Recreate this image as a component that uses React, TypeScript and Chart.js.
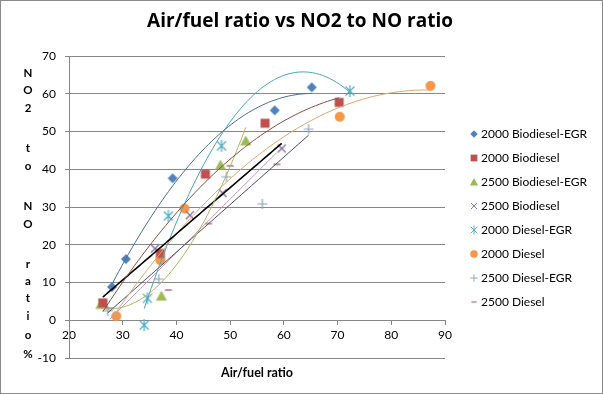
import React, { useEffect, useRef } from 'react';
import { Chart, registerables } from 'chart.js';
Chart.register(...registerables);

// ---- data ----
const seriesNames = [
  '2000 Biodiesel-EGR',
  '2000 Biodiesel',
  '2500 Biodiesel-EGR',
  '2500 Biodiesel',
  '2000 Diesel-EGR',
  '2000 Diesel',
  '2500 Diesel-EGR',
  '2500 Diesel',
];
const bioEgr2000X = [28, 30.6, 39.3, 58.3, 65.2];
const bioEgr2000Y = [8.8, 16.2, 37.6, 55.6, 61.7];
const bio2000X = [26.3, 37, 45.4, 56.5, 70.3];
const bio2000Y = [4.6, 17.7, 38.7, 52.2, 57.7];
const bioEgr2500X = [25.9, 37.2, 48.2, 52.9];
const bioEgr2500Y = [4.2, 6.4, 41.1, 47.5];
const bio2500X = [26.3, 36, 42.5, 48.6, 59.6];
const bio2500Y = [4.4, 19, 27.8, 33.7, 45.5];
const dieselEgr2000X = [34, 34.6, 38.5, 48.4, 72.3];
const dieselEgr2000Y = [-1.3, 5.8, 27.6, 46.2, 60.7];
const diesel2000X = [28.8, 37, 41.5, 70.4, 87.3];
const diesel2000Y = [1.1, 15.9, 29.6, 53.9, 62.1];
const dieselEgr2500X = [27.2, 36.7, 49.3, 56, 64.6];
const dieselEgr2500Y = [2.5, 10.9, 38, 30.8, 50.6];
const diesel2500X = [27.6, 38.5, 46, 50, 58.7];
const diesel2500Y = [3.2, 8, 25.6, 40.9, 41.3];

// trendline type per series (polynomial order)
const trendOrders = [2, 2, 2, 1, 2, 2, 1, 1];

const xAxisMin = 20;
const xAxisMax = 90;
const yAxisMin = -10;
const yAxisMax = 70;
const tickStep = 10;

const chartTitle = 'Air/fuel ratio vs NO2 to NO ratio';
const xTitle = 'Air/fuel ratio';
const yTitle = 'NO2 to NO ratio %';

// ---- styles ----
const seriesX = [bioEgr2000X, bio2000X, bioEgr2500X, bio2500X, dieselEgr2000X, diesel2000X, dieselEgr2500X, diesel2500X];
const seriesY = [bioEgr2000Y, bio2000Y, bioEgr2500Y, bio2500Y, dieselEgr2000Y, diesel2000Y, dieselEgr2500Y, diesel2500Y];
const markerKinds = ['diamond', 'square', 'triangle', 'x', 'asterisk', 'circle', 'plus', 'dash'];
const markerColors = ['#4F81BD', '#C0504D', '#9BBB59', '#8064A2', '#4BACC6', '#F79646', '#8da2c0', '#c9909e'];
const trendColors = ['#4a6f97', '#8e4a48', '#b0b860', '#000000', '#4ba6c0', '#dcaa72', '#4a4a66', '#c496ac'];
const trendWidths = [1, 1, 1, 1.6, 1, 1, 1, 1];

const FONT = 'Lato, "Open Sans", "DejaVu Sans", sans-serif';
const TITLE_FONT = '"Open Sans", Lato, sans-serif';

function makeMarker(kind: string, color: string, scale = 1): HTMLCanvasElement {
  const s = 16;
  const c = document.createElement('canvas');
  c.width = s;
  c.height = s;
  const g = c.getContext('2d')!;
  g.translate(s / 2, s / 2);
  g.scale(scale, scale);
  g.fillStyle = color;
  g.strokeStyle = color;
  g.lineWidth = 1.2;
  g.beginPath();
  switch (kind) {
    case 'diamond':
      g.moveTo(0, -5); g.lineTo(5, 0); g.lineTo(0, 5); g.lineTo(-5, 0); g.closePath(); g.fill();
      break;
    case 'square':
      g.fillRect(-4.5, -4.5, 9, 9);
      break;
    case 'triangle':
      g.moveTo(0, -5.5); g.lineTo(5.5, 4.5); g.lineTo(-5.5, 4.5); g.closePath(); g.fill();
      break;
    case 'x':
      g.moveTo(-4, -4); g.lineTo(4, 4); g.moveTo(-4, 4); g.lineTo(4, -4); g.stroke();
      break;
    case 'asterisk':
      g.moveTo(-4.5, -4.5); g.lineTo(4.5, 4.5); g.moveTo(-4.5, 4.5); g.lineTo(4.5, -4.5);
      g.moveTo(0, -6); g.lineTo(0, 6); g.stroke();
      break;
    case 'circle':
      g.arc(0, 0, 5, 0, Math.PI * 2); g.fill();
      break;
    case 'plus':
      g.moveTo(-5, 0); g.lineTo(5, 0); g.moveTo(0, -5); g.lineTo(0, 5); g.stroke();
      break;
    case 'dash':
      g.fillRect(-3.5, -1, 7, 2);
      break;
  }
  return c;
}

// least-squares polynomial trendline (order 1 or 2), as Excel does
function polyFit(xs: number[], ys: number[], order: number): number[] {
  const m = order + 1;
  const M: number[][] = [];
  for (let r = 0; r < m; r++) {
    const row: number[] = [];
    for (let c = 0; c < m; c++) {
      let s = 0;
      for (let i = 0; i < xs.length; i++) s += Math.pow(xs[i], r + c);
      row.push(s);
    }
    let t = 0;
    for (let i = 0; i < xs.length; i++) t += ys[i] * Math.pow(xs[i], r);
    row.push(t);
    M.push(row);
  }
  for (let i = 0; i < m; i++) {
    let p = i;
    for (let r = i + 1; r < m; r++) if (Math.abs(M[r][i]) > Math.abs(M[p][i])) p = r;
    [M[i], M[p]] = [M[p], M[i]];
    for (let r = 0; r < m; r++) {
      if (r === i) continue;
      const f = M[r][i] / M[i][i];
      for (let k = i; k <= m; k++) M[r][k] -= f * M[i][k];
    }
  }
  return M.map((row, i) => row[m] / row[i]);
}

function trendPoints(xs: number[], ys: number[], order: number) {
  const coef = polyFit(xs, ys, order);
  const lo = Math.min(...xs), hi = Math.max(...xs);
  const pts = [];
  const N = 60;
  for (let i = 0; i <= N; i++) {
    const x = lo + ((hi - lo) * i) / N;
    let y = 0;
    coef.forEach((c, k) => { y += c * Math.pow(x, k); });
    pts.push({ x, y });
  }
  return pts;
}

export default function App() {
  const ref = useRef<HTMLCanvasElement>(null);
  useEffect(() => {
    document.body.style.margin = '0';
    const markers = markerKinds.map((k, i) => makeMarker(k, markerColors[i]));
    const legendMarkers = markerKinds.map((k, i) => makeMarker(k, markerColors[i], 0.75));

    const trendSets = seriesNames.map((name, i) => ({
      type: 'line' as const,
      label: name + ' trend',
      data: trendPoints(seriesX[i], seriesY[i], trendOrders[i]),
      borderColor: trendColors[i],
      borderWidth: trendWidths[i],
      pointRadius: 0,
      showLine: true,
      fill: false,
      tension: 0,
    }));
    const markerSets = seriesNames.map((name, i) => ({
      type: 'scatter' as const,
      label: name,
      data: seriesX[i].map((x, j) => ({ x, y: seriesY[i][j] })),
      pointStyle: markers[i],
      pointRadius: 5,
      showLine: false,
      backgroundColor: markerColors[i],
      borderColor: markerColors[i],
    }));

    const decor = {
      id: 'decor',
      beforeDraw(chart: any) {
        const { ctx, width, height } = chart;
        ctx.save();
        ctx.fillStyle = '#ffffff';
        ctx.fillRect(0, 0, width, height);
        ctx.strokeStyle = '#8a8a8a';
        ctx.lineWidth = 1;
        ctx.strokeRect(0.5, 0.5, width - 1, height - 1);
        ctx.restore();
      },
      afterDraw(chart: any) {
        const { ctx } = chart;
        ctx.save();
        // title
        ctx.fillStyle = '#000';
        ctx.font = 'bold 19px ' + TITLE_FONT;
        ctx.textAlign = 'center';
        ctx.textBaseline = 'middle';
        ctx.fillText(chartTitle, 300, 22);
        // stacked y title
        ctx.font = 'bold 11.5px ' + FONT;
        const ys = [73, 90, 108, 125, 148, 166, 186, 206, 224, 244, 264, 281, 298, 316, 335, 345, 354];
        const chars = yTitle.split('');
        chars.forEach((ch, k) => {
          if (ch !== ' ') ctx.fillText(ch, 28, ys[k]);
        });
        // legend
        ctx.textAlign = 'left';
        ctx.font = '12px ' + FONT;
        seriesNames.forEach((name, i) => {
          const y = 134 + i * 24;
          const m = legendMarkers[i];
          ctx.drawImage(m, 474 - m.width / 2, y - m.height / 2);
          ctx.fillStyle = '#000';
          ctx.fillText(name, 481, y);
        });
        ctx.restore();
      },
    };

    const chart = new Chart(ref.current!, {
      type: 'scatter',
      data: { datasets: [...trendSets, ...markerSets] as any },
      plugins: [decor],
      options: {
        animation: false,
        responsive: false,
        devicePixelRatio: 1,
        layout: { padding: { left: 0, top: 56, right: 158, bottom: 36 } },
        plugins: { legend: { display: false }, tooltip: { enabled: false }, title: { display: false } },
        scales: {
          x: {
            type: 'linear',
            min: xAxisMin,
            max: xAxisMax,
            position: { y: 0 } as any,
            ticks: { stepSize: tickStep, color: '#000', font: { family: FONT, size: 12 }, padding: 4 },
            grid: { drawOnChartArea: false, tickLength: 4, color: '#868686' },
            border: { color: '#868686' },
            title: {
              display: true,
              text: xTitle,
              color: '#000',
              font: { family: FONT, size: 12.5, weight: 'bold' },
              padding: { top: 19, bottom: 0 },
            },
          },
          y: {
            type: 'linear',
            min: yAxisMin,
            max: yAxisMax,
            ticks: { stepSize: tickStep, color: '#000', font: { family: FONT, size: 12 }, padding: 9 },
            grid: { tickLength: 4, color: '#868686' },
            border: { color: '#868686' },
            afterFit: (s: any) => { s.width = 69; },
          },
        },
      },
    });
    return () => chart.destroy();
  }, []);
  return <canvas ref={ref} width={603} height={394} style={{ display: 'block' }} />;
}
